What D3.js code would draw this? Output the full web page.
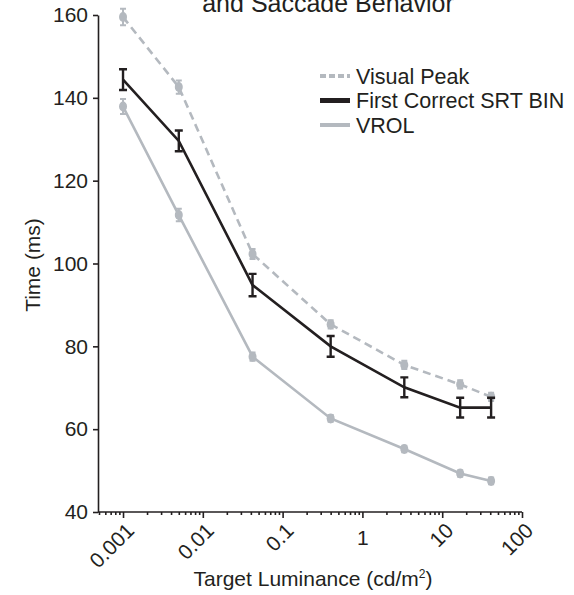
<!DOCTYPE html>
<html lang="en">
<head>
<meta charset="UTF-8" />
<title>Visual Response Onset and Saccade Behavior</title>
<script src="https://d3js.org/d3.v7.min.js"></script>
<style>
  body { margin: 0; background: #fff; }
  svg { display: block; font-family: "Liberation Sans", Arial, sans-serif; }
  .axis path, .axis line { stroke: #231f20; stroke-width: 1.6px; }
  .axis text { fill: #231f20; font-size: 21px; }
</style>
</head>
<body>
<script>
// luminance levels (cd/m2) and the three timing series (ms)
const luminance = [0.001, 0.005, 0.042, 0.4, 3.35, 16.8, 41];
const visualPeak = [159.5, 142.6, 102.3, 85.3, 75.5, 70.8, 67.8];
const visualPeakErr = [2, 1.6, 1.2, 1, 1, 1, 1];
const firstSRT = [144.4, 129.6, 94.8, 80, 70.1, 65.2, 65.2];
const firstSRTErr = [2.5, 2.5, 2.7, 2.5, 2.4, 2.4, 2.4];
const vrol = [137.9, 111.7, 77.5, 62.6, 55.2, 49.3, 47.5];
const vrolErr = [1.8, 1.5, 1, 0.8, 0.8, 0.8, 0.8];

const yTicks = [40, 60, 80, 100, 120, 140, 160];
const xMajor = [0.001, 0.01, 0.1, 1, 10, 100];
const xLabels = ["0.001", "0.01", "0.1", "1", "10", "100"];

const width = 574, height = 595;
const gray = "#b4b9bf", dark = "#231f20";

const svg = d3.select("body").append("svg")
  .attr("width", width)
  .attr("height", height);

const x = d3.scaleLog().domain([0.0005, 100]).range([99, 522]);
const y = d3.scaleLinear().domain([40, 160]).range([512, 15]);

// minor ticks 2..9 in each decade
const xMinor = [];
[0.0001, 0.001, 0.01, 0.1, 1, 10].forEach(dec => {
  for (let k = 2; k <= 9; k++) {
    const v = dec * k;
    if (v >= 0.0005 && v < 100) xMinor.push(v);
  }
});

// title (first line is cropped off the top)
svg.append("text")
  .attr("x", 328)
  .attr("y", 12)
  .attr("text-anchor", "middle")
  .style("font-size", "25px")
  .style("fill", dark)
  .text("and Saccade Behavior");

// axes
svg.append("g")
  .attr("class", "axis")
  .attr("transform", "translate(0,512)")
  .call(d3.axisBottom(x).tickValues(xMinor).tickSize(3).tickSizeOuter(0).tickFormat(""))
  .select(".domain").remove();

const xAxis = svg.append("g")
  .attr("class", "axis")
  .attr("transform", "translate(0,512)")
  .call(d3.axisBottom(x).tickValues(xMajor).tickSize(6).tickSizeOuter(0)
    .tickFormat((d, i) => xLabels[i]));

xAxis.select(".domain").attr("d", "M98,0H522");

xAxis.selectAll(".tick text")
  .attr("y", 0)
  .attr("dy", 0)
  .attr("transform", d => d === 1 ? "translate(0,33)" : "translate(12,20) rotate(-45)")
  .attr("text-anchor", d => d === 1 ? "middle" : "end");

svg.append("g")
  .attr("class", "axis")
  .attr("transform", "translate(98,0)")
  .call(d3.axisLeft(y).tickValues(yTicks).tickSize(5).tickSizeOuter(0).tickPadding(5));

// axis titles
svg.append("text")
  .attr("transform", "translate(40,265) rotate(-90)")
  .attr("text-anchor", "middle")
  .style("font-size", "21px")
  .style("fill", dark)
  .text("Time (ms)");

const xt = svg.append("text")
  .attr("x", 313)
  .attr("y", 586)
  .attr("text-anchor", "middle")
  .style("font-size", "21px")
  .style("fill", dark);
xt.append("tspan").text("Target Luminance (cd/m");
xt.append("tspan").attr("dy", -8).style("font-size", "12px").text("2");
xt.append("tspan").attr("dy", 8).text(")");

// series
const series = [
  { values: visualPeak, err: visualPeakErr, color: gray, dash: "8,5", marker: true },
  { values: firstSRT, err: firstSRTErr, color: dark, dash: null, marker: false },
  { values: vrol, err: vrolErr, color: gray, dash: null, marker: true }
];

const line = d3.line()
  .x(d => x(d.lum))
  .y(d => y(d.v));

series.forEach(s => {
  const pts = luminance.map((lum, i) => ({ lum: lum, v: s.values[i], e: s.err[i] }));

  svg.append("path")
    .datum(pts)
    .attr("d", line)
    .attr("fill", "none")
    .attr("stroke", s.color)
    .attr("stroke-width", 2.6)
    .attr("stroke-dasharray", s.dash);

  const g = svg.append("g");
  pts.forEach(p => {
    const cx = x(p.lum);
    const y0 = y(p.v - p.e), y1 = y(p.v + p.e);
    const cap = s.marker ? 3 : 4;
    g.append("path")
      .attr("d", `M${cx},${y0}V${y1}M${cx - cap},${y0}H${cx + cap}M${cx - cap},${y1}H${cx + cap}`)
      .attr("fill", "none")
      .attr("stroke", s.color)
      .attr("stroke-width", s.marker ? 2 : 2.4);
    if (s.marker) {
      g.append("ellipse")
        .attr("cx", cx)
        .attr("cy", y(p.v))
        .attr("rx", 4)
        .attr("ry", 5)
        .attr("fill", s.color);
    }
  });
});

// legend
const legendItems = [
  { label: "Visual Peak", color: gray, dash: "6,3", w: 4 },
  { label: "First Correct SRT BIN", color: dark, dash: null, w: 5 },
  { label: "VROL", color: gray, dash: null, w: 4 }
];

const legend = svg.append("g").attr("transform", "translate(320,76)");
legendItems.forEach((item, i) => {
  const row = legend.append("g").attr("transform", `translate(0,${i * 24.5})`);
  row.append("line")
    .attr("x1", 0).attr("x2", 30)
    .attr("y1", 0).attr("y2", 0)
    .attr("stroke", item.color)
    .attr("stroke-width", item.w)
    .attr("stroke-dasharray", item.dash);
  row.append("text")
    .attr("x", 36)
    .attr("y", 7.5)
    .style("font-size", "21.5px")
    .style("fill", dark)
    .text(item.label);
});
</script>
</body>
</html>
